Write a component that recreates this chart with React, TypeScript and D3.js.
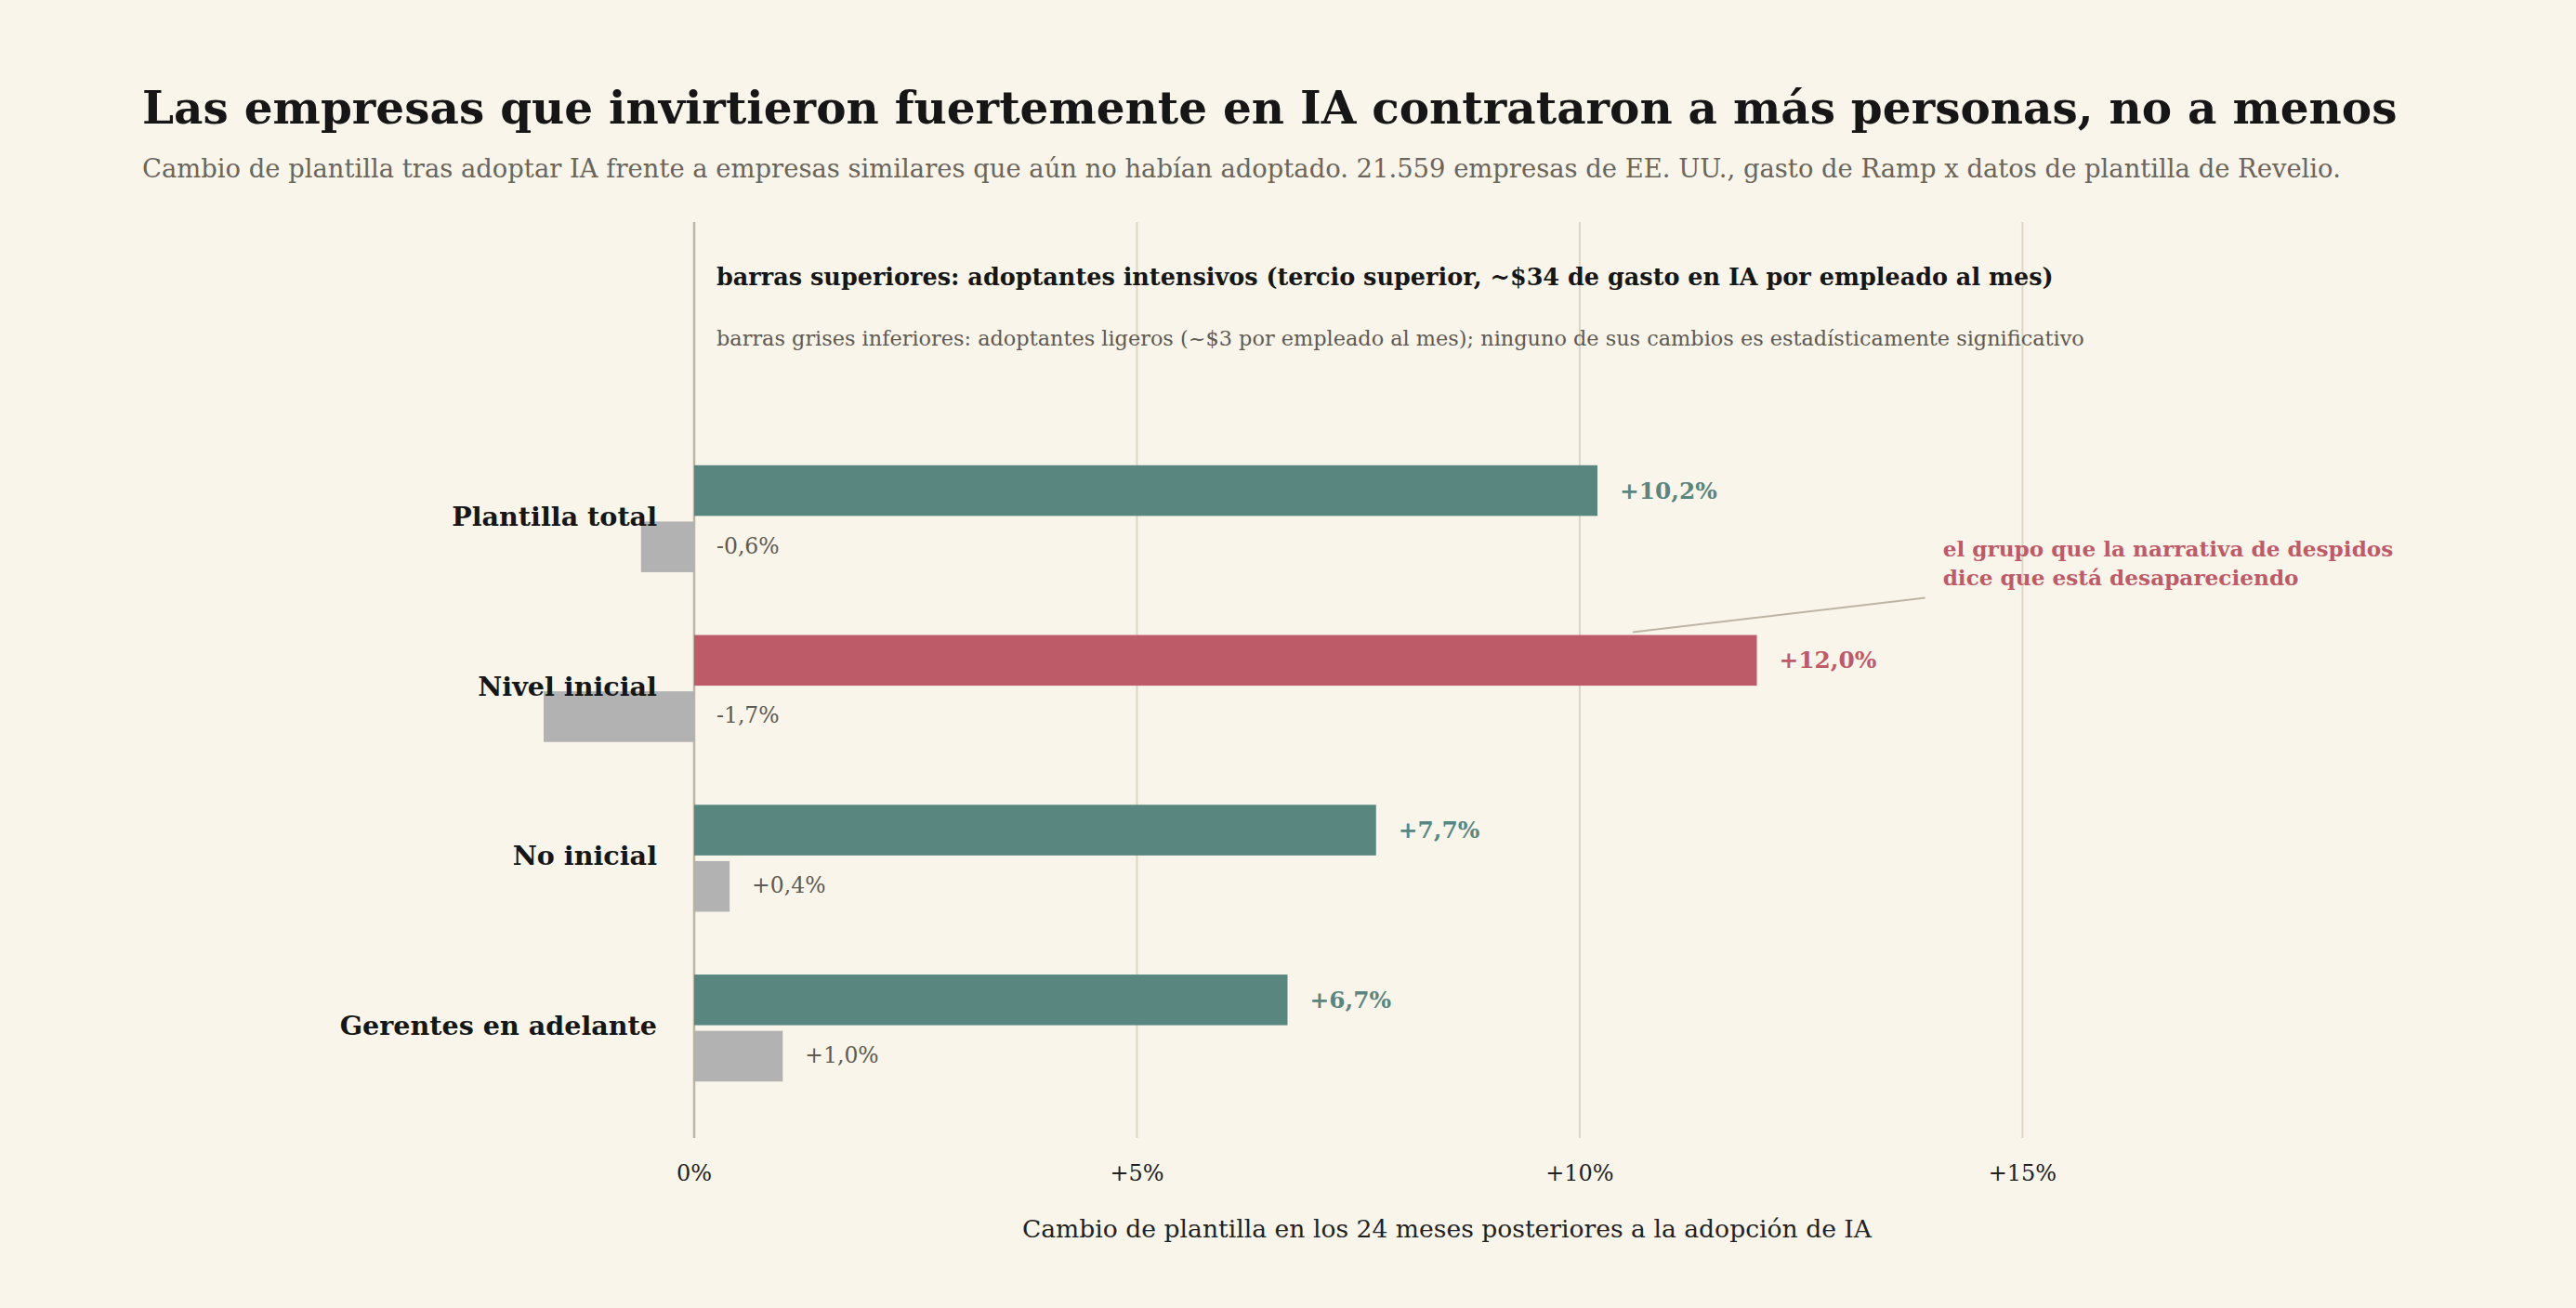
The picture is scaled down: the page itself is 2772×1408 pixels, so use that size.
import * as d3 from 'd3';

// Change in headcount after AI adoption, % vs similar non-adopters
const categories = ['Plantilla total', 'Nivel inicial', 'No inicial', 'Gerentes en adelante'];
const heavyValues = [10.2, 12.0, 7.7, 6.7];
const lightValues = [-0.6, -1.7, 0.4, 1.0];
const heavyLabels = ['+10,2%', '+12,0%', '+7,7%', '+6,7%'];
const lightLabels = ['-0,6%', '-1,7%', '+0,4%', '+1,0%'];
const tickValues = [0, 5, 10, 15];
const tickLabels = ['0%', '+5%', '+10%', '+15%'];
const highlight = 'Nivel inicial';

const W = 2772;
const H = 1408;
const FONT = "Georgia, 'DejaVu Serif', serif";
const BG = '#f9f5eb';
const TEAL = '#5a8680';
const RED = '#be5b68';
const GREY = '#b1b2b1';

export default function App() {
  const x = d3.scaleLinear().domain([0, 17]).range([747, 2367]);
  const y = d3
    .scaleBand<string>()
    .domain(categories)
    .range([467, 1198])
    .paddingInner(0.37)
    .paddingOuter(0.185);
  const sub = d3
    .scaleBand<string>()
    .domain(['heavy', 'light'])
    .range([0, y.bandwidth()])
    .paddingInner(0.1);

  const gridTop = 239;
  const gridBottom = 1225;
  const hi = categories.indexOf(highlight);
  const hiY = (y(highlight) ?? 0) - 3;

  return (
    <div style={{ position: 'absolute', left: 0, top: 0 }}>
      <svg width={W} height={H} style={{ display: 'block' }} fontFamily={FONT}>
        <rect width={W} height={H} fill={BG} />

        <text x={153} y={133} fontSize={48.5} fontWeight={700} fill='#161616'>
          Las empresas que invirtieron fuertemente en IA contrataron a más personas, no a menos
        </text>
        <text x={153} y={191} fontSize={27.4} fill='#6b655b'>
          Cambio de plantilla tras adoptar IA frente a empresas similares que aún no habían adoptado. 21.559 empresas de EE. UU., gasto de Ramp x datos de plantilla de Revelio.
        </text>

        {/* grid */}
        {tickValues.map((t, i) => (
          <g key={t}>
            <line
              x1={x(t)}
              x2={x(t)}
              y1={gridTop}
              y2={gridBottom}
              stroke={t === 0 ? '#bdb4a4' : '#ddd6c6'}
              strokeWidth={t === 0 ? 2.5 : 2}
            />
            <text x={x(t)} y={1271} fontSize={24} textAnchor='middle' fill='#222'>
              {tickLabels[i]}
            </text>
          </g>
        ))}

        <text x={(x.range()[0] + x.range()[1]) / 2} y={1332} fontSize={26.6} textAnchor='middle' fill='#222'>
          Cambio de plantilla en los 24 meses posteriores a la adopción de IA
        </text>

        <text x={771} y={307} fontSize={25.5} fontWeight={700} fill='#161616'>
          barras superiores: adoptantes intensivos (tercio superior, ~$34 de gasto en IA por empleado al mes)
        </text>
        <text x={771} y={372} fontSize={22.4} fill='#5f5a52'>
          barras grises inferiores: adoptantes ligeros (~$3 por empleado al mes); ninguno de sus cambios es estadísticamente significativo
        </text>

        {categories.map((c, i) => {
          const y0 = y(c) ?? 0;
          const hy = y0 + (sub('heavy') ?? 0);
          const ly = y0 + (sub('light') ?? 0);
          const bh = sub.bandwidth();
          const hv = heavyValues[i];
          const lv = lightValues[i];
          const col = i === hi ? RED : TEAL;
          return (
            <g key={c}>
              <rect x={x(Math.min(0, lv))} y={ly} width={Math.abs(x(lv) - x(0))} height={bh} fill={GREY} />
              <rect x={x(0)} y={hy} width={x(hv) - x(0)} height={bh} fill={col} />
              <text x={x(0) - 40} y={y0 + 65} fontSize={28.6} fontWeight={700} textAnchor='end' fill='#161616'>
                {c}
              </text>
              <text x={x(hv) + 24} y={hy + bh / 2 + 8.5} fontSize={24.8} fontWeight={700} fill={col}>
                {heavyLabels[i]}
              </text>
              <text x={x(Math.max(0, lv)) + 24} y={ly + bh / 2 + 7} fontSize={23.5} fill='#5f5a52'>
                {lightLabels[i]}
              </text>
            </g>
          );
        })}

        {/* callout for entry level */}
        <line x1={x(10.6)} y1={hiY} x2={x(13.9)} y2={hiY - 37} stroke='#bdb4a4' strokeWidth={2} />
        <text x={x(14.1)} y={hiY - 82} fontSize={23.2} fontWeight={700} fill={RED}>
          <tspan x={x(14.1)}>el grupo que la narrativa de despidos</tspan>
          <tspan x={x(14.1)} dy={31}>dice que está desapareciendo</tspan>
        </text>
      </svg>
    </div>
  );
}
